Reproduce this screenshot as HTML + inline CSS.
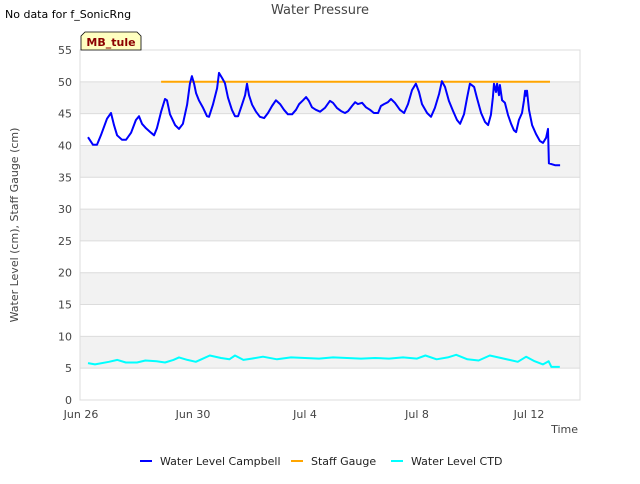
<!DOCTYPE html>
<html><head><meta charset="utf-8"><style>
body{margin:0;background:#fff;font-family:"DejaVu Sans","Liberation Sans",sans-serif;}
svg text{font-family:"DejaVu Sans","Liberation Sans",sans-serif;}
</style></head><body>
<svg id="chart" width="640" height="480" xmlns="http://www.w3.org/2000/svg">
<text x="320" y="14" text-anchor="middle" font-size="13" fill="#444">Water Pressure</text>
<text x="5" y="18" font-size="11" fill="#000">No data for f_SonicRng</text>
<g id="grid"></g>
<g id="series"></g>
<g id="axes"></g>
<g>
<path d="M81,50 L81,36 L85,32 L137,32 L141,36 L141,50 Z" fill="#ffffc0" stroke="#000" stroke-width="0.8"/>
<text x="111" y="46" text-anchor="middle" font-size="11" font-weight="bold" fill="#8b0000">MB_tule</text>
</g>
<text transform="translate(18,225) rotate(-90)" text-anchor="middle" font-size="11" fill="#444">Water Level (cm), Staff Gauge (cm)</text>
<text x="578" y="433" text-anchor="end" font-size="11" fill="#444">Time</text>
<g>
<g><line x1="140" y1="461" x2="152" y2="461" stroke="#0000ff" stroke-width="2"/><text x="160" y="465" font-size="11" fill="#222">Water Level Campbell</text></g>
<g><line x1="291" y1="461" x2="303" y2="461" stroke="#ffa500" stroke-width="2"/><text x="311" y="465" font-size="11" fill="#222">Staff Gauge</text></g>
<g><line x1="391" y1="461" x2="403" y2="461" stroke="#00ffff" stroke-width="2"/><text x="411" y="465" font-size="11" fill="#222">Water Level CTD</text></g>
</g>
</svg>
<script>
const yTicks=[0,5,10,15,20,25,30,35,40,45,50,55];
const xTickDays=[0,4,8,12,16];
const xTickLabels=["Jun 26","Jun 30","Jul 4","Jul 8","Jul 12"];
const campbellDays=[0.25,0.43,0.57,0.71,0.93,1.07,1.18,1.29,1.46,1.61,1.79,1.96,2.07,2.18,2.32,2.5,2.61,2.71,2.86,3.0,3.07,3.18,3.36,3.5,3.64,3.79,3.89,3.96,4.04,4.11,4.21,4.36,4.5,4.57,4.71,4.86,4.93,5.04,5.14,5.25,5.39,5.5,5.61,5.75,5.86,5.93,6.0,6.11,6.25,6.39,6.54,6.68,6.82,6.96,7.11,7.25,7.39,7.54,7.68,7.79,7.93,8.04,8.14,8.25,8.39,8.54,8.71,8.89,9.0,9.14,9.29,9.43,9.54,9.68,9.79,9.89,10.04,10.18,10.32,10.46,10.61,10.71,10.82,10.96,11.07,11.21,11.39,11.54,11.68,11.82,11.96,12.07,12.18,12.36,12.5,12.64,12.79,12.89,13.0,13.14,13.29,13.43,13.54,13.68,13.79,13.89,14.04,14.14,14.29,14.43,14.54,14.64,14.71,14.75,14.82,14.86,14.93,14.96,15.04,15.14,15.25,15.36,15.46,15.54,15.64,15.75,15.82,15.86,15.89,15.93,16.0,16.11,16.25,16.39,16.5,16.61,16.68,16.71,16.93,17.11];
const campbellValues=[41.3,40.1,40.1,41.6,44.2,45.1,43.2,41.6,40.9,40.9,42.0,44.0,44.6,43.4,42.7,42.0,41.6,42.7,45.3,47.3,47.1,44.9,43.2,42.6,43.4,46.4,49.7,50.9,49.7,48.2,47.1,45.9,44.6,44.5,46.4,49.0,51.4,50.6,49.8,47.5,45.6,44.6,44.6,46.4,47.9,49.7,47.9,46.4,45.3,44.5,44.3,45.1,46.2,47.1,46.5,45.6,44.9,44.9,45.6,46.5,47.1,47.6,47.0,46.0,45.6,45.3,45.9,47.0,46.7,45.9,45.4,45.1,45.4,46.2,46.8,46.5,46.7,46.0,45.6,45.1,45.1,46.2,46.5,46.8,47.3,46.7,45.6,45.1,46.5,48.7,49.7,48.4,46.5,45.1,44.5,45.9,48.1,50.1,49.2,47.0,45.4,44.0,43.4,44.9,47.5,49.7,49.2,47.5,45.1,43.7,43.2,44.8,47.6,49.7,48.4,49.7,47.9,49.5,47.1,46.7,44.8,43.4,42.4,42.1,44.0,45.1,47.1,48.6,47.8,48.6,45.6,43.2,41.8,40.7,40.4,41.2,42.6,37.2,36.9,36.9];
const staffDays=[2.86,16.75];
const staffValues=[50,50];
const ctdDays=[0.25,0.5,1,1.3,1.6,2,2.3,2.7,3,3.3,3.5,3.8,4.1,4.3,4.6,5,5.3,5.5,5.8,6.1,6.5,7,7.5,8,8.5,9,9.5,10,10.5,11,11.5,12,12.3,12.7,13.1,13.4,13.8,14.2,14.6,15,15.3,15.6,15.9,16.2,16.5,16.7,16.8,17.1];
const ctdValues=[5.8,5.6,6.0,6.3,5.9,5.9,6.2,6.1,5.9,6.3,6.7,6.3,6.0,6.4,7.0,6.6,6.4,7.0,6.3,6.5,6.8,6.4,6.7,6.6,6.5,6.7,6.6,6.5,6.6,6.5,6.7,6.5,7.0,6.4,6.7,7.1,6.4,6.2,7.0,6.6,6.3,6.0,6.8,6.1,5.6,6.1,5.2,5.2];

const L=80,R=580,T=50,B=400,ymax=55;
const xs=d=>81+d*28;
const ys=v=>B-(v/ymax)*(B-T);
const NS='http://www.w3.org/2000/svg';
function mk(tag,attrs,parent){const e=document.createElementNS(NS,tag);for(const k in attrs)e.setAttribute(k,attrs[k]);parent.appendChild(e);return e;}
const grid=document.getElementById('grid'),axes=document.getElementById('axes'),series=document.getElementById('series');
mk('rect',{x:L,y:T,width:R-L,height:B-T,fill:'#fff'},grid);
for(let i=0;i<yTicks.length-1;i++){
  if(i%2===1){const b=mk('rect',{x:L,y:ys(yTicks[i+1]),width:R-L,height:ys(yTicks[i])-ys(yTicks[i+1]),fill:'#f2f2f2'},grid);
  
  }
}
yTicks.forEach(v=>{
  const l=mk('line',{x1:L,x2:R,y1:ys(v),y2:ys(v),stroke:'#dcdcdc','stroke-width':1},grid);
  
  
  const t=mk('text',{x:L-8,y:ys(v)+4,'text-anchor':'end','font-size':11,fill:'#444'},axes);
  t.textContent=v;
  
  
});
mk('rect',{x:L,y:T,width:R-L,height:B-T,fill:'none',stroke:'#dcdcdc'},grid);
xTickDays.forEach((d,i)=>{
  const t=mk('text',{x:xs(d),y:B+18,'text-anchor':'middle','font-size':11,fill:'#444'},axes);
  t.textContent=xTickLabels[i];
  
  
});
function line(days,vals,color,name){
  const p=days.map((d,i)=>(i?'L':'M')+xs(d).toFixed(1)+','+ys(vals[i]).toFixed(1)).join(' ');
  const e=mk('path',{d:p,fill:'none',stroke:color,'stroke-width':2,'stroke-linejoin':'round'},series);
  
  
}
line(ctdDays,ctdValues,'#00ffff','ctd-line');
line(staffDays,staffValues,'#ffa500','staff-gauge-line');
line(campbellDays,campbellValues,'#0000ff','campbell-line');
</script>
</body></html>
